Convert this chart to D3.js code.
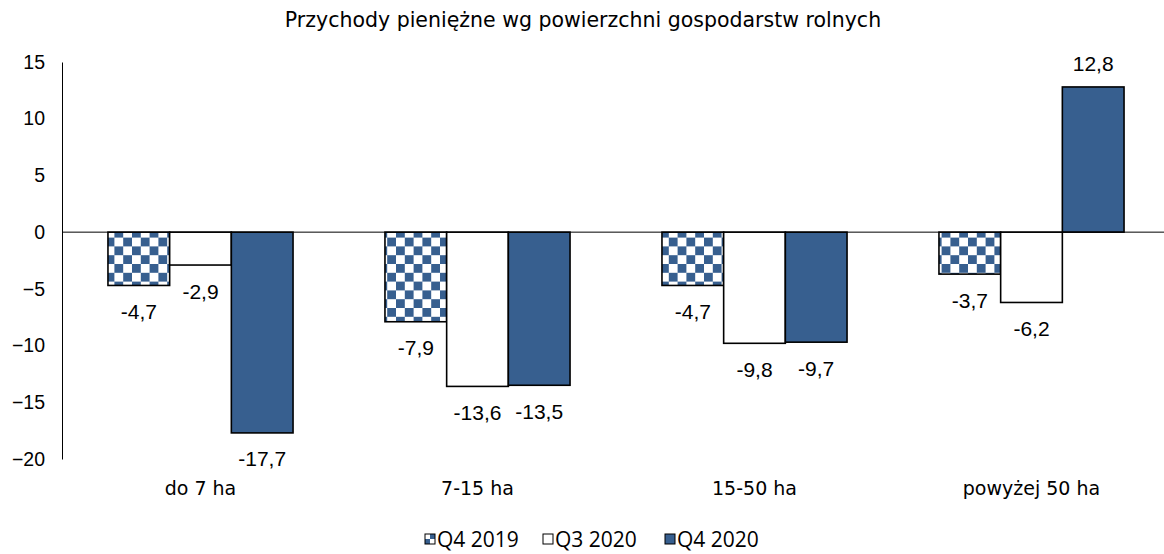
<!DOCTYPE html>
<html>
<head>
    <meta charset="utf-8">
    <title>Przychody pieniężne</title>
    <script src="https://d3js.org/d3.v7.min.js"></script>
    <style>body { margin: 0px; background: #fff; }</style>
</head>
<body>
<svg width="1164" height="554"></svg>
<script>

    var categories = ["do 7 ha", "7-15 ha", "15-50 ha", "powyżej 50 ha"],
        series = ["Q4 2019", "Q3 2020", "Q4 2020"],
        q4_2019 = [-4.7, -7.9, -4.7, -3.7],
        q3_2020 = [-2.9, -13.6, -9.8, -6.2],
        q4_2020 = [-17.7, -13.5, -9.7, 12.8],
        yTicks = [15, 10, 5, 0, -5, -10, -15, -20];

    var values = [q4_2019, q3_2020, q4_2020],
        blue = "#375f8f";

    var svg = d3.select("svg"),
        width = +svg.attr("width");

    // checker pattern for Q4 2019
    var defs = svg.append("defs");
    function checker(id, s) {
        var p = defs.append("pattern")
            .attr("id", id)
            .attr("patternUnits", "userSpaceOnUse")
            .attr("width", s * 2)
            .attr("height", s * 2);
        p.append("rect").attr("width", s * 2).attr("height", s * 2).attr("fill", "#fff");
        p.append("rect").attr("x", s).attr("width", s).attr("height", s).attr("fill", blue);
        p.append("rect").attr("y", s).attr("width", s).attr("height", s).attr("fill", blue);
    }
    checker("chk", 8.8);
    checker("chkLegend", 5);

    var fills = ["url(#chk)", "#fff", blue],
        legendFills = ["url(#chkLegend)", "#fff", blue];

    var x = d3.scaleBand().domain(categories).range([62, 1170]),
        x1 = d3.scaleBand().domain(series).range([0, x.bandwidth()]).paddingOuter(0.745),
        y = d3.scaleLinear().domain([-20, 15]).range([459, 62]);

    var fmt = function (v) { return d3.format(".1f")(v).replace(".", ",").replace("−", "-"); };

    // title
    svg.append("text")
        .attr("x", 583)
        .attr("y", 27)
        .attr("text-anchor", "middle")
        .style("font-family", "DejaVu Sans")
        .style("font-size", "20.5px")
        .text("Przychody pieniężne wg powierzchni gospodarstw rolnych");

    // y axis
    var yAxis = svg.append("g")
        .attr("transform", "translate(62,0)")
        .call(d3.axisLeft(y).tickValues(yTicks).tickSize(0).tickPadding(17).tickFormat(d3.format("d")));
    yAxis.select(".domain").attr("stroke", "#000");
    yAxis.selectAll("text")
        .style("font-family", "Liberation Sans")
        .style("font-size", "19.5px")
        .attr("fill", "#000");

    // bars
    var groups = svg.selectAll("g.grp")
        .data(series)
        .enter()
        .append("g")
        .attr("class", "grp");

    groups.each(function (s, si) {
        var g = d3.select(this);
        var data = categories.map(function (c, i) { return { c: c, v: values[si][i] }; });
        g.selectAll("rect")
            .data(data)
            .enter()
            .append("rect")
            .attr("x", function (d) { return x(d.c) + x1(s); })
            .attr("y", function (d) { return y(Math.max(0, d.v)); })
            .attr("width", x1.bandwidth())
            .attr("height", function (d) { return Math.abs(y(d.v) - y(0)); })
            .attr("fill", fills[si])
            .attr("stroke", "#000")
            .attr("stroke-width", 1.6);
        g.selectAll("text")
            .data(data)
            .enter()
            .append("text")
            .attr("x", function (d) { return x(d.c) + x1(s) + x1.bandwidth() / 2; })
            .attr("y", function (d) { return d.v < 0 ? y(d.v) + 33.5 : y(d.v) - 16; })
            .attr("text-anchor", "middle")
            .style("font-family", "Liberation Sans")
            .style("font-size", "21px")
            .text(function (d) { return fmt(d.v); });
    });

    // zero line
    svg.append("line")
        .attr("x1", 62).attr("x2", width)
        .attr("y1", y(0)).attr("y2", y(0))
        .attr("stroke", "#000")
        .attr("stroke-width", 1);

    // category labels
    svg.selectAll("text.cat")
        .data(categories)
        .enter()
        .append("text")
        .attr("class", "cat")
        .attr("x", function (d) { return x(d) + x.bandwidth() / 2; })
        .attr("y", 495)
        .attr("text-anchor", "middle")
        .style("font-family", "DejaVu Sans")
        .style("font-size", "19px")
        .text(function (d) { return d; });

    // legend
    var legendX = [425, 543, 665];
    var leg = svg.selectAll("g.leg")
        .data(series)
        .enter()
        .append("g")
        .attr("class", "leg")
        .attr("transform", function (d, i) { return "translate(" + legendX[i] + ",534)"; });
    leg.append("rect")
        .attr("width", 10).attr("height", 10)
        .attr("fill", function (d, i) { return legendFills[i]; })
        .attr("stroke", "#000")
        .attr("stroke-width", 1);
    leg.append("text")
        .attr("x", 12)
        .attr("y", 12.5)
        .style("font-family", "Open Sans")
        .style("font-size", "21px")
        .text(function (d) { return d; });

</script>
</body>
</html>
